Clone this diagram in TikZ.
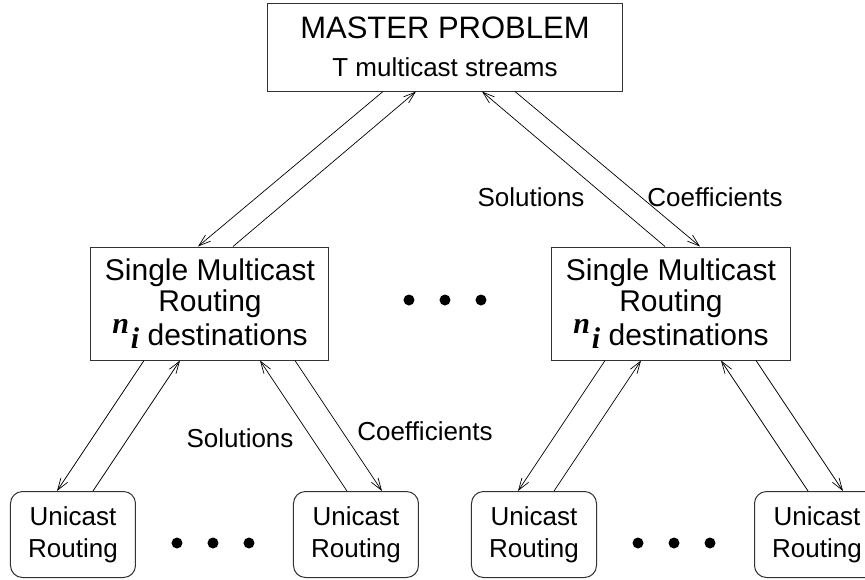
\documentclass[tikz,border=0pt]{standalone}
\usepackage{fontspec}
\setmainfont{Liberation Sans}
\newfontfamily\idxfont{Liberation Serif}
\usepackage{tikz}
\usetikzlibrary{shapes.geometric, arrows.meta}
\tikzstyle{master} = [rectangle, draw=black!80, line width=1pt, minimum width=354pt, minimum height=88pt, align=center, font=\fontsize{31}{36}\selectfont]
\tikzstyle{multi} = [rectangle, draw=black!80, line width=1pt, minimum width=238pt, minimum height=113pt, align=center, font=\fontsize{30}{31}\selectfont]
\tikzstyle{uni} = [rectangle, rounded corners=12pt, draw=black!80, line width=1pt, minimum width=125pt, minimum height=86pt, align=center, font=\fontsize{26}{32}\selectfont]
\tikzstyle{tag} = [inner sep=0pt, font=\fontsize{26}{30}\selectfont]
\tikzstyle{dot} = [circle, fill=black, inner sep=0pt, minimum size=11pt]
\tikzstyle{arrow} = [line width=0.7pt,->,>={Straight Barb[length=12pt,width=8pt]}]
\newcommand{\nidx}{{\idxfont\bfseries\itshape\raisebox{.42em}{n}\hspace{2pt}\raisebox{-.08em}{i}}}

\begin{document}
\begin{tikzpicture}[node distance=140pt]
\useasboundingbox (-445pt,47pt) rectangle (420pt,-532pt);

\node (master) [master] {MASTER PROBLEM\\[2pt]{\fontsize{26}{30}\selectfont T multicast streams}};
\node (smrL) [multi, below of=master, xshift=-235pt, yshift=-116.5pt] {Single Multicast\\Routing\\\nidx\ destinations};
\node (smrR) [multi, below of=master, xshift=226pt, yshift=-116.5pt] {Single Multicast\\Routing\\\nidx\ destinations};

\node (uni1) [uni, below of=smrL, xshift=-137pt, yshift=-91pt] {Unicast\\Routing};
\node (uni2) [uni, below of=smrL, xshift=146pt, yshift=-91pt] {Unicast\\Routing};
\node (uni3) [uni, below of=smrR, xshift=-137pt, yshift=-91pt] {Unicast\\Routing};
\node (uni4) [uni, below of=smrR, xshift=146pt, yshift=-91pt] {Unicast\\Routing};

% dots between the blocks
\node (dM1) [dot, below of=master, xshift=-36pt, yshift=-113pt] {};
\node (dM2) [dot, below of=master, yshift=-113pt] {};
\node (dM3) [dot, below of=master, xshift=36pt, yshift=-113pt] {};
\node (dL1) [dot, right of=uni1, xshift=-36pt, yshift=-8.5pt] {};
\node (dL2) [dot, right of=uni1, yshift=-8.5pt] {};
\node (dL3) [dot, right of=uni1, xshift=36pt, yshift=-8.5pt] {};
\node (dR1) [dot, right of=uni3, xshift=-36pt, yshift=-8.5pt] {};
\node (dR2) [dot, right of=uni3, yshift=-8.5pt] {};
\node (dR3) [dot, right of=uni3, xshift=36pt, yshift=-8.5pt] {};

\node (solR) [tag, below of=master, xshift=86pt, yshift=-10pt] {Solutions};
\node (coefR) [tag, below of=master, xshift=270pt, yshift=-10pt] {Coefficients};
\node (solL) [tag, below of=smrL, xshift=30pt, yshift=5.5pt] {Solutions};
\node (coefL) [tag, below of=smrL, xshift=215pt, yshift=12.5pt] {Coefficients};

\draw [arrow] ([xshift=-62pt]master.south) -- ([xshift=-12pt]smrL.north);
\draw [arrow] ([xshift=23pt]smrL.north) -- ([xshift=-29pt]master.south);
\draw [arrow] ([xshift=-6pt]smrR.north) -- ([xshift=37pt]master.south);
\draw [arrow] ([xshift=70pt]master.south) -- ([xshift=29pt]smrR.north);

\draw [arrow] ([xshift=-66pt]smrL.south) -- ([xshift=-16pt]uni1.north);
\draw [arrow] ([xshift=20pt]uni1.north) -- ([xshift=-30pt]smrL.south);
\draw [arrow] ([xshift=-9pt]uni2.north) -- ([xshift=50pt]smrL.south);
\draw [arrow] ([xshift=85pt]smrL.south) -- ([xshift=26pt]uni2.north);

\draw [arrow] ([xshift=-66pt]smrR.south) -- ([xshift=-16pt]uni3.north);
\draw [arrow] ([xshift=20pt]uni3.north) -- ([xshift=-30pt]smrR.south);
\draw [arrow] ([xshift=-9pt]uni4.north) -- ([xshift=50pt]smrR.south);
\draw [arrow] ([xshift=85pt]smrR.south) -- ([xshift=26pt]uni4.north);

\end{tikzpicture}
\end{document}
